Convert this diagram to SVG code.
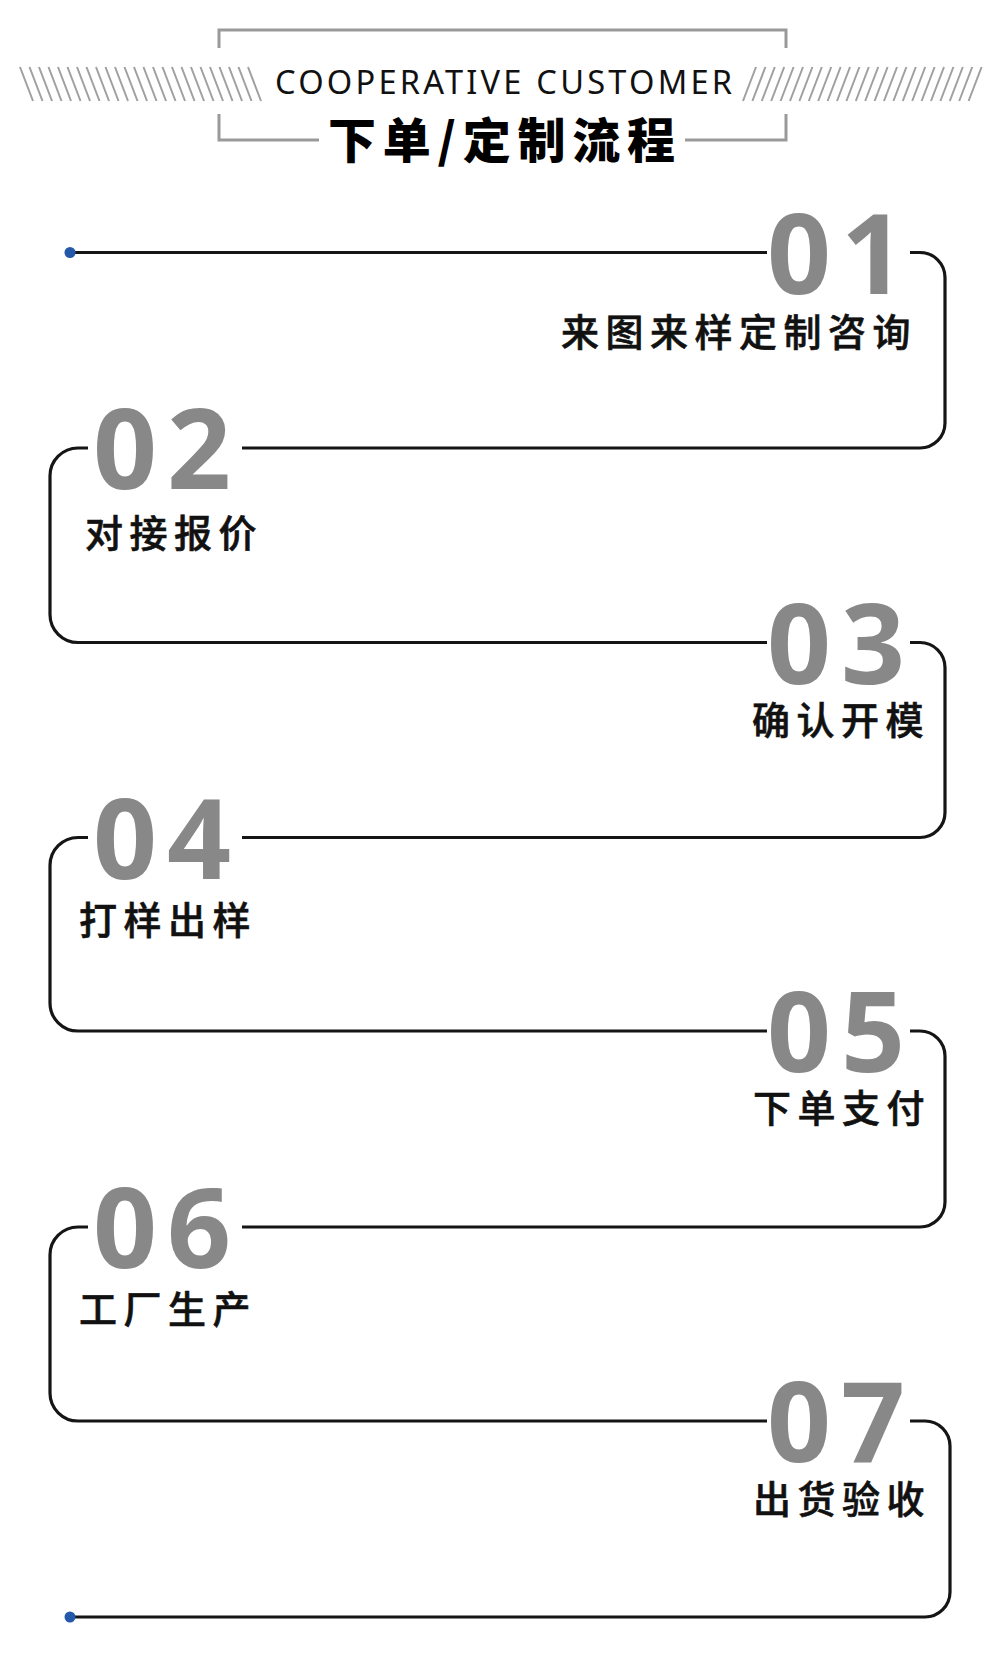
<svg xmlns="http://www.w3.org/2000/svg" width="1000" height="1677" viewBox="0 0 1000 1677">
  <defs>
    <style>
      .bracket { fill: none; stroke: #9a9a9a; stroke-width: 3; }
      .hatch { stroke: #a0a0a0; stroke-width: 2; }
      .flow { fill: none; stroke: #151515; stroke-width: 3.2; stroke-linecap: butt; }
      .dot { fill: #2458a8; }
      .num { font-family: "Open Sans", "Noto Sans", "DejaVu Sans", sans-serif; font-weight: 700; font-size: 112px; fill: #888888; letter-spacing: 10px; }
      .label { font-family: "Noto Sans CJK SC", "Noto Sans", sans-serif; font-weight: 500; font-size: 38px; fill: #111111; stroke: #111111; stroke-width: 0.6px; letter-spacing: 6.5px; }
      .en { font-family: "Noto Sans", "Open Sans", sans-serif; font-weight: 400; font-size: 32.6px; fill: #111111; }
      .title { font-family: "Noto Sans CJK SC", sans-serif; font-weight: 900; font-size: 48px; fill: #000000; }
    </style>
  </defs>
  <rect width="1000" height="1677" fill="#ffffff"/>

  <g id="header">
    <path class="bracket" d="M219,48 V30 H786 V48"/>
    <path class="bracket" d="M219,114 V140 H319"/>
    <path class="bracket" d="M685,140 H786 V114"/>
    <g id="hatch-left">
      <path class="hatch" d="M20,67 l13,34 M29.5,67 l13,34 M39,67 l13,34 M48.5,67 l13,34 M58,67 l13,34 M67.5,67 l13,34 M77,67 l13,34 M86.5,67 l13,34 M96,67 l13,34 M105.5,67 l13,34 M115,67 l13,34 M124.5,67 l13,34 M134,67 l13,34 M143.5,67 l13,34 M153,67 l13,34 M162.5,67 l13,34 M172,67 l13,34 M181.5,67 l13,34 M191,67 l13,34 M200.5,67 l13,34 M210,67 l13,34 M219.5,67 l13,34 M229,67 l13,34 M238.5,67 l13,34 M248,67 l13,34"/>
    </g>
    <g id="hatch-right">
      <path class="hatch" d="M743,101 l13,-34 M752.4,101 l13,-34 M761.8,101 l13,-34 M771.2,101 l13,-34 M780.6,101 l13,-34 M790,101 l13,-34 M799.4,101 l13,-34 M808.8,101 l13,-34 M818.2,101 l13,-34 M827.6,101 l13,-34 M837,101 l13,-34 M846.4,101 l13,-34 M855.8,101 l13,-34 M865.2,101 l13,-34 M874.6,101 l13,-34 M884,101 l13,-34 M893.4,101 l13,-34 M902.8,101 l13,-34 M912.2,101 l13,-34 M921.6,101 l13,-34 M931,101 l13,-34 M940.4,101 l13,-34 M949.8,101 l13,-34 M959.2,101 l13,-34 M968.6,101 l13,-34"/>
    </g>
    <text class="en" x="275" y="94" textLength="457" lengthAdjust="spacing">COOPERATIVE CUSTOMER</text>
    <text class="title" x="328" y="158" textLength="347" lengthAdjust="spacing">下单/定制流程</text>
  </g>

  <g id="connectors">
    <path class="flow" d="M70,252.5 H767"/>
    <path class="flow" d="M910,252.5 H920 A25,25 0 0 1 945,277.5 V423 A25,25 0 0 1 920,448 H242"/>
    <path class="flow" d="M88,448 H78 A28,28 0 0 0 50,476 V614.5 A28,28 0 0 0 78,642.5 H767"/>
    <path class="flow" d="M910,642.5 H920 A25,25 0 0 1 945,667.5 V812.5 A25,25 0 0 1 920,837.5 H242"/>
    <path class="flow" d="M88,837.5 H78 A28,28 0 0 0 50,865.5 V1003 A28,28 0 0 0 78,1031 H767"/>
    <path class="flow" d="M910,1031 H920 A25,25 0 0 1 945,1056 V1202 A25,25 0 0 1 920,1227 H242"/>
    <path class="flow" d="M88,1227 H78 A28,28 0 0 0 50,1255 V1393 A28,28 0 0 0 78,1421 H767"/>
    <path class="flow" d="M910,1421 H925 A25,25 0 0 1 950,1446 V1592 A25,25 0 0 1 925,1617 H70"/>
    <circle class="dot" cx="70" cy="252.5" r="5.5"/>
    <circle class="dot" cx="70" cy="1617" r="5.5"/>
  </g>

  <g id="step-01">
    <text class="num" x="767" y="293.5">01</text>
    <text class="label" x="561" y="345.5">来图来样定制咨询</text>
  </g>
  <g id="step-02">
    <text class="num" x="93" y="489">02</text>
    <text class="label" x="85" y="547">对接报价</text>
  </g>
  <g id="step-03">
    <text class="num" x="767" y="683.5">03</text>
    <text class="label" x="752" y="733.5">确认开模</text>
  </g>
  <g id="step-04">
    <text class="num" x="93" y="878.5">04</text>
    <text class="label" x="79" y="933.5">打样出样</text>
  </g>
  <g id="step-05">
    <text class="num" x="767" y="1072">05</text>
    <text class="label" x="753" y="1122">下单支付</text>
  </g>
  <g id="step-06">
    <text class="num" x="93" y="1268">06</text>
    <text class="label" x="79" y="1322.5">工厂生产</text>
  </g>
  <g id="step-07">
    <text class="num" x="767" y="1462">07</text>
    <text class="label" x="753" y="1512.5">出货验收</text>
  </g>
</svg>
